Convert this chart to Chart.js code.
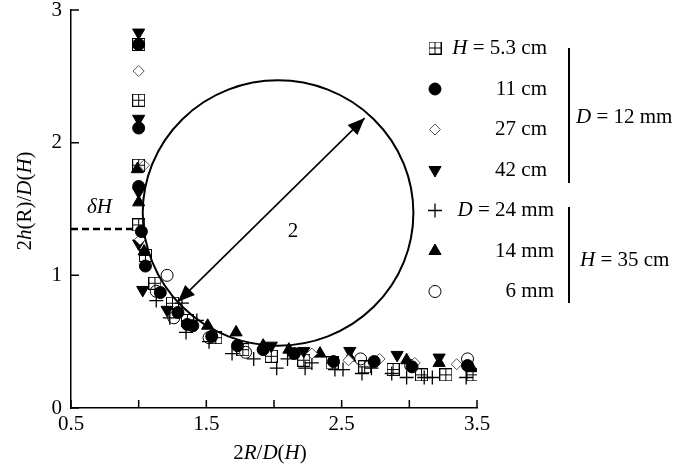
<!DOCTYPE html>
<html>
<head>
<meta charset="utf-8">
<script src="https://cdn.jsdelivr.net/npm/chart.js@4.4.1/dist/chart.umd.min.js"></script>
<style>
  html, body { margin: 0; padding: 0; background: #fff; }
</style>
</head>
<body>
<canvas id="ourChart" width="674" height="473"></canvas>
<script>
// точки (2R/D, 2h/D) для каждой серии
const H53 = [[1.00,2.74],[1.00,2.32],[1.00,1.83],[1.00,1.38],[1.05,1.15],[1.12,0.94],[1.25,0.79],[1.36,0.66],[1.57,0.53],[1.77,0.44],[1.98,0.39],[2.22,0.36],[2.43,0.34],[2.67,0.31],[2.88,0.29],[3.09,0.25],[3.27,0.25],[3.47,0.25]];
const H11 = [[1.00,2.74],[1.00,2.11],[1.00,1.67],[1.02,1.33],[1.05,1.07],[1.16,0.87],[1.29,0.72],[1.36,0.63],[1.40,0.62],[1.54,0.54],[1.73,0.47],[1.92,0.44],[2.15,0.41],[2.44,0.35],[2.74,0.35],[3.02,0.31],[3.43,0.32]];
const H27 = [[1.00,2.54],[1.04,1.83],[1.01,1.27],[2.28,0.41],[2.55,0.36],[2.78,0.37],[3.04,0.34],[3.35,0.33]];
const H42 = [[1.00,2.83],[1.00,2.18],[1.00,1.63],[1.00,1.24],[1.03,0.89],[1.21,0.74],[1.98,0.47],[2.22,0.43],[2.56,0.43],[2.91,0.40],[3.22,0.38]];
const D24 = [[1.13,0.81],[1.32,0.79],[1.23,0.68],[1.35,0.57],[1.43,0.66],[1.52,0.50],[1.69,0.41],[1.85,0.37],[2.02,0.30],[2.10,0.37],[2.23,0.30],[2.28,0.34],[2.45,0.29],[2.51,0.29],[2.65,0.26],[2.72,0.30],[2.87,0.26],[2.98,0.23],[3.11,0.23],[3.17,0.23],[3.42,0.23]];
const D14 = [[0.99,1.80],[1.00,1.55],[1.04,1.18],[1.51,0.62],[1.72,0.57],[1.92,0.47],[2.11,0.44],[2.34,0.41],[2.56,0.38],[2.98,0.36],[3.22,0.34],[3.46,0.30]];
const D6  = [[1.21,1.00],[1.13,0.88],[1.26,0.68],[1.52,0.53],[1.79,0.42],[2.64,0.37],[3.01,0.32],[3.43,0.37]];

const xTicks = [0.5, 1, 1.5, 2, 2.5, 3, 3.5];
const xTickLabels = ['0.5', '', '1.5', '', '2.5', '', '3.5'];
const yTicks = [0, 1, 2, 3];
const yTickLabels = ['0', '1', '2', '3'];

// подписи легенды: [текст, курсив]
const legendLabels = [
    [['H', true], [' = 5.3 cm', false]],
    [['11 cm', false]],
    [['27 cm', false]],
    [['42 cm', false]],
    [['D', true], [' = 24 mm', false]],
    [['14 mm', false]],
    [['6 mm', false]]
];

// окружность диаметром 2 и стрелка
const circleCenter = [2.03, 1.47];
const circleRadius = 1.0;
const arrowFrom = [1.29, 0.80];
const arrowTo = [2.67, 2.185];
const deltaH = 1.35;

const FONT = "'Liberation Serif', 'Times New Roman', serif";
const FSIZE = 21;
function font(italic, size) {
    return (italic ? 'italic ' : '') + (size || FSIZE) + 'px ' + FONT;
}

// квадрат с крестом внутри
function makeBoxPlus(size) {
    const c = document.createElement('canvas');
    c.width = c.height = size;
    const g = c.getContext('2d');
    g.strokeStyle = '#000';
    g.lineWidth = 1;
    g.strokeRect(0.5, 0.5, size - 1, size - 1);
    const m = Math.floor(size / 2) + 0.5;
    g.beginPath();
    g.moveTo(m, 0); g.lineTo(m, size);
    g.moveTo(0, m); g.lineTo(size, m);
    g.stroke();
    return c;
}
const boxPlus = makeBoxPlus(13);

const styles = [
    {pointStyle: boxPlus, radius: 6.5, bg: 'rgba(0,0,0,0)', border: '#000', bw: 1, rot: 0},
    {pointStyle: 'circle', radius: 6, bg: '#000', border: '#000', bw: 1, rot: 0},
    {pointStyle: 'rectRot', radius: 5.5, bg: '#fff', border: '#555', bw: 1, rot: 0},
    {pointStyle: 'triangle', radius: 7, bg: '#000', border: '#000', bw: 1, rot: 180},
    {pointStyle: 'cross', radius: 7, bg: '#000', border: '#000', bw: 1.3, rot: 0},
    {pointStyle: 'triangle', radius: 7, bg: '#000', border: '#000', bw: 1, rot: 0},
    {pointStyle: 'circle', radius: 6, bg: '#fff', border: '#000', bw: 1, rot: 0}
];
const series = [H53, H11, H27, H42, D24, D14, D6];

const datasets = series.map((pts, i) => ({
    data: pts.map(p => ({x: p[0], y: p[1]})),
    pointStyle: styles[i].pointStyle,
    pointRadius: styles[i].radius,
    pointRotation: styles[i].rot,
    backgroundColor: styles[i].bg,
    borderColor: styles[i].border,
    borderWidth: styles[i].bw,
    showLine: false
}));

function drawRich(ctx, parts, x, y, align) {
    let w = 0;
    parts.forEach(p => { ctx.font = font(p[1]); w += ctx.measureText(p[0]).width; });
    let cx = align === 'right' ? x - w : (align === 'center' ? x - w / 2 : x);
    ctx.textAlign = 'left';
    parts.forEach(p => {
        ctx.font = font(p[1]);
        ctx.fillText(p[0], cx, y);
        cx += ctx.measureText(p[0]).width;
    });
}

function arrowHead(ctx, x0, y0, x1, y1, len, half) {
    const a = Math.atan2(y1 - y0, x1 - x0);
    ctx.beginPath();
    ctx.moveTo(x1, y1);
    ctx.lineTo(x1 - len * Math.cos(a) + half * Math.sin(a), y1 - len * Math.sin(a) - half * Math.cos(a));
    ctx.lineTo(x1 - len * Math.cos(a) - half * Math.sin(a), y1 - len * Math.sin(a) + half * Math.cos(a));
    ctx.closePath();
    ctx.fill();
}

const extras = {
    id: 'extras',
    afterDraw(chart) {
        const ctx = chart.ctx;
        const xs = chart.scales.x, ys = chart.scales.y;
        const px = v => xs.getPixelForValue(v), py = v => ys.getPixelForValue(v);
        ctx.save();
        ctx.fillStyle = '#000';
        ctx.strokeStyle = '#000';

        // засечки внутрь
        ctx.lineWidth = 1.5;
        ctx.beginPath();
        xTicks.forEach(v => { ctx.moveTo(px(v), ys.bottom); ctx.lineTo(px(v), ys.bottom - 8); });
        yTicks.forEach(v => { ctx.moveTo(xs.left, py(v)); ctx.lineTo(xs.left + 8, py(v)); });
        ctx.stroke();

        // окружность
        ctx.lineWidth = 2;
        ctx.beginPath();
        const cx = px(circleCenter[0]), cy = py(circleCenter[1]);
        const rx = px(circleCenter[0] + circleRadius) - cx, ry = cy - py(circleCenter[1] + circleRadius);
        ctx.ellipse(cx, cy, rx, ry, 0, 0, Math.PI * 2);
        ctx.stroke();

        // стрелка
        const ax0 = px(arrowFrom[0]), ay0 = py(arrowFrom[1]), ax1 = px(arrowTo[0]), ay1 = py(arrowTo[1]);
        ctx.lineWidth = 1.6;
        ctx.beginPath();
        ctx.moveTo(ax0, ay0); ctx.lineTo(ax1, ay1);
        ctx.stroke();
        arrowHead(ctx, ax0, ay0, ax1, ay1, 17, 7);
        arrowHead(ctx, ax1, ay1, ax0, ay0, 17, 7);

        ctx.textBaseline = 'middle';
        ctx.font = font(false);
        ctx.textAlign = 'center';
        ctx.fillText('2', px(2.14), py(1.33));

        // δH
        ctx.lineWidth = 2.5;
        ctx.setLineDash([7, 4]);
        ctx.beginPath();
        ctx.moveTo(xs.left, py(deltaH)); ctx.lineTo(px(1.0), py(deltaH));
        ctx.stroke();
        ctx.setLineDash([]);
        drawRich(ctx, [['δH', true]], px(0.71), py(1.51), 'center');

        // подписи осей
        drawRich(ctx, [['2', false], ['R', true], ['/', false], ['D', true], ['(', false], ['H', true], [')', false]], 270, 453, 'center');
        ctx.save();
        ctx.translate(25, 201);
        ctx.rotate(-Math.PI / 2);
        drawRich(ctx, [['2', false], ['h', true], ['(R)/', false], ['D', true], ['(', false], ['H', true], [')', false]], 0, 0, 'center');
        ctx.restore();

        // легенда
        const rowY = [48, 89, 129.5, 170, 210.5, 251, 291.5];
        legendLabels.forEach((parts, i) => {
            const s = styles[i];
            ctx.fillStyle = s.bg;
            ctx.strokeStyle = s.border;
            ctx.lineWidth = s.bw;
            Chart.helpers.drawPoint(ctx, {pointStyle: s.pointStyle, radius: s.radius, rotation: s.rot, borderWidth: s.bw}, 435, rowY[i]);
            ctx.fillStyle = '#000';
            drawRich(ctx, parts, i < 4 ? 547 : 554, rowY[i], 'right');
        });
        ctx.strokeStyle = '#000';
        ctx.lineWidth = 2;
        ctx.beginPath();
        ctx.moveTo(569, 48); ctx.lineTo(569, 183);
        ctx.moveTo(569, 207); ctx.lineTo(569, 303);
        ctx.stroke();
        drawRich(ctx, [['D', true], [' = 12 mm', false]], 576, 117, 'left');
        drawRich(ctx, [['H', true], [' = 35 cm', false]], 580, 260, 'left');
        ctx.restore();
    }
};

const ourCanvas = document.getElementById('ourChart');
const chartElement = new Chart(ourCanvas, {
    type: 'scatter',
    data: { datasets: datasets },
    options: {
        responsive: false,
        animation: false,
        layout: { padding: { left: 0, top: 0, right: 197, bottom: 0 } },
        plugins: { legend: { display: false }, tooltip: { enabled: false } },
        scales: {
            x: {
                type: 'linear', min: 0.5, max: 3.5,
                afterBuildTicks: s => { s.ticks = xTicks.map(v => ({value: v})); },
                afterFit: s => { s.height = 65; },
                ticks: {
                    autoSkip: false, maxRotation: 0, padding: 4, color: '#000',
                    font: { family: FONT, size: FSIZE },
                    callback: (v, i) => xTickLabels[i]
                },
                grid: { display: false, drawTicks: false },
                border: { display: true, color: '#000', width: 1.5 }
            },
            y: {
                type: 'linear', min: 0, max: 3,
                afterBuildTicks: s => { s.ticks = yTicks.map(v => ({value: v})); },
                afterFit: s => { s.width = 71; s.paddingTop = 10; s.paddingBottom = 0; },
                ticks: {
                    autoSkip: false, padding: 9, color: '#000',
                    font: { family: FONT, size: FSIZE },
                    callback: (v, i) => yTickLabels[i]
                },
                grid: { display: false, drawTicks: false },
                border: { display: true, color: '#000', width: 1.5 }
            }
        }
    },
    plugins: [extras]
});
</script>
</body>
</html>
